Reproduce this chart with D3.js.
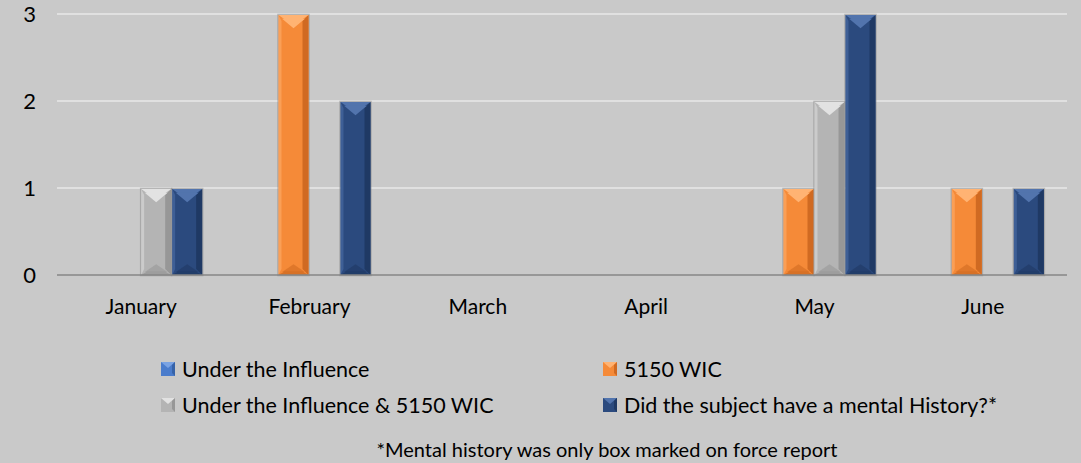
<!DOCTYPE html>
<html><head><meta charset="utf-8">
<script src="https://cdn.jsdelivr.net/npm/d3@7"></script>
<style>
html,body{margin:0;padding:0;background:#c9c9c9;}
svg{display:block;}
text{font-family:"Lato","Open Sans",sans-serif;fill:#000;}
</style></head>
<body><svg id="c" width="1081" height="463"></svg>
<script>
const categories = ["January","February","March","April","May","June"];
const seriesNames = ["Under the Influence","5150 WIC","Under the Influence & 5150 WIC","Did the subject have a mental History?*"];
const underInfluence = [0,0,0,0,0,0];
const wic5150 = [0,3,0,0,1,1];
const both = [1,0,0,0,2,0];
const mentalHistory = [1,2,0,0,3,1];
const yTicks = [0,1,2,3];
const footnote = "*Mental history was only box marked on force report";

const seriesValues = [underInfluence, wic5150, both, mentalHistory];
const colors = ["#4a7ccc","#f58a38","#b4b4b4","#2b4a7e"];
const lighter = ["#7aa3e3","#ffb373","#e2e2e2","#5274ad"];
const darker = ["#3763a8","#d06a22","#979797","#1f3964"];

const svg = d3.select("#c");
const W = 1081, H = 463;
svg.append("rect").attr("width",W).attr("height",H).attr("fill","#c9c9c9");

const m = {left:57, right:14};
const x0 = d3.scaleBand().domain(categories).range([m.left, W-m.right]).paddingInner(0).paddingOuter(0);
const x1 = d3.scaleBand().domain(d3.range(4)).range([0, x0.bandwidth()]).paddingInner(0).paddingOuter(0.715);
const y = d3.scaleLinear().domain([0,3]).range([275, 14]);

// gridlines
svg.append("g").selectAll("line").data(yTicks.filter(d=>d>0)).join("line")
  .attr("x1",m.left).attr("x2",W-m.right)
  .attr("y1",d=>y(d)).attr("y2",d=>y(d))
  .attr("stroke","#e0e0e0").attr("stroke-width",2);

// y tick labels
svg.append("g").selectAll("text").data(yTicks).join("text")
  .attr("x",36).attr("y",d=>y(d)).attr("dy","0.36em")
  .attr("text-anchor","end").attr("font-size",22).text(d=>d);

// bars
const bars = [];
categories.forEach((c,ci)=>{
  seriesValues.forEach((vals,si)=>{
    if (vals[ci] > 0) bars.push({c, si, v: vals[ci]});
  });
});
const g = svg.append("g");
bars.forEach(b=>{
  const bx = x0(b.c) + x1(b.si);
  const w = x1.bandwidth() - 1;
  const top = y(b.v)+1, bot = y(0);
  const h = bot - top;
  const bg = g.append("g");
  bg.append("rect").attr("x",bx-0.5).attr("y",top-0.5).attr("width",w+1).attr("height",h+1).attr("fill","none").attr("stroke","#8a8a8a").attr("stroke-opacity",0.5).attr("stroke-width",1.5);
  bg.append("rect").attr("x",bx).attr("y",top).attr("width",w).attr("height",h).attr("fill",colors[b.si]);
  const s = w*0.2;
  // right dark strip
  bg.append("polygon").attr("points",[[bx+w,top],[bx+w,bot],[bx+w-s,bot-s],[bx+w-s,top+s]].join(" ")).attr("fill",darker[b.si]);
  // left light strip
  bg.append("polygon").attr("points",[[bx,top],[bx,bot],[bx+s*0.5,bot-s],[bx+s*0.5,top+s]].join(" ")).attr("fill",lighter[b.si]).attr("opacity",0.5);
  // top light triangle
  bg.append("polygon").attr("points",[[bx,top],[bx+w,top],[bx+w-s,top+s*0.7],[bx+s,top+s*0.7]].join(" ")).attr("fill",lighter[b.si]);
  bg.append("polygon").attr("points",[[bx+s*0.6,top+s*0.7-0.5],[bx+w-s*0.6,top+s*0.7-0.5],[bx+w/2,top+s*2.2]].join(" ")).attr("fill",lighter[b.si]);
  // bottom darker
  bg.append("polygon").attr("points",[[bx,bot],[bx+w,bot],[bx+w-s,bot-s*0.6],[bx+s,bot-s*0.6]].join(" ")).attr("fill",darker[b.si]).attr("opacity",0.8);
  bg.append("polygon").attr("points",[[bx+s*0.6,bot-s*0.6+0.5],[bx+w-s*0.6,bot-s*0.6+0.5],[bx+w/2,bot-s*1.8]].join(" ")).attr("fill",darker[b.si]).attr("opacity",0.6);
});

// x axis line
svg.append("line").attr("x1",m.left).attr("x2",W-m.right).attr("y1",y(0)).attr("y2",y(0))
  .attr("stroke","#868686").attr("stroke-width",1.5);

// x labels
svg.append("g").selectAll("text").data(categories).join("text")
  .attr("x",d=>x0(d)+x0.bandwidth()/2).attr("y",306).attr("dy","0.36em")
  .attr("text-anchor","middle").attr("font-size",21).text(d=>d);

// legend
const legPos = [[161,369],[603,369],[161,405],[603,405]];
const lg = svg.append("g");
seriesNames.forEach((n,i)=>{
  const [lx,ly] = legPos[i];
  const k = lg.append("g");
  const sz = 14;
  k.append("rect").attr("x",lx).attr("y",ly-sz/2).attr("width",sz).attr("height",sz).attr("fill",colors[i]);
  k.append("polygon").attr("points",[[lx,ly-sz/2],[lx+sz,ly-sz/2],[lx+sz/2,ly-1]].join(" ")).attr("fill",lighter[i]);
  k.append("polygon").attr("points",[[lx+sz,ly-sz/2],[lx+sz,ly+sz/2],[lx+sz-3,ly+sz/2-3],[lx+sz-3,ly-sz/2+3]].join(" ")).attr("fill",darker[i]);
  k.append("text").attr("x",lx+21).attr("y",ly).attr("dy","0.36em").attr("font-size",21.5).text(n);
});

svg.append("text").attr("x",607).attr("y",450).attr("dy","0.36em").attr("text-anchor","middle")
  .attr("font-size",20).text(footnote);
</script></body></html>
